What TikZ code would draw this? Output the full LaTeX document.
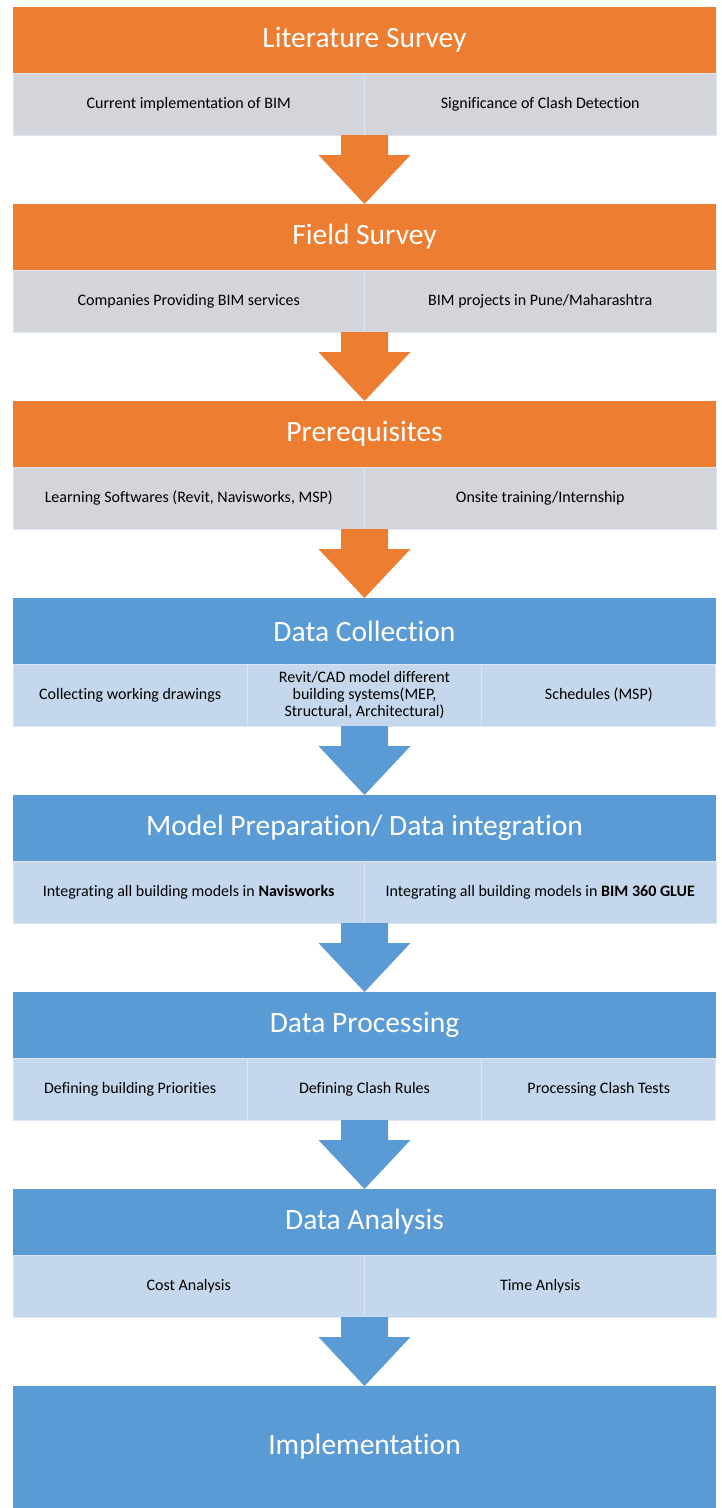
\documentclass[tikz,border=0pt]{standalone}
\usepackage{fontspec}
\setmainfont{Carlito}[Ligatures=NoCommon]
\usetikzlibrary{positioning, calc}
\definecolor{stageorange}{RGB}{237,125,49}
\definecolor{stageblue}{RGB}{91,155,213}
\definecolor{cellgray}{RGB}{211,213,219}
\definecolor{cellblue}{RGB}{197,215,237}
\definecolor{celledge}{RGB}{220,230,243}
\tikzset{
    x=1pt, y=1pt,                               % one unit per pixel of the page
    node distance=0pt,
    outer sep=0pt,
    stage/.style={fill=#1, text=white, minimum width=703pt, minimum height=66pt,
        inner sep=0pt, font=\fontsize{29.5}{31}\selectfont},
    cell/.style={fill=#1, draw=celledge, line width=1pt, minimum height=62pt,
        inner sep=2pt, align=center, font=\fontsize{16}{17}\selectfont},
    half/.style={cell=#1, minimum width=351.5pt},   % two cells under a stage
    third/.style={cell=#1, minimum width=234.33pt}, % three cells under a stage
}
% block arrow from the cell row under stage #1 down to stage #2
\newcommand{\flowarrow}[3]{%
    \fill[#3] ($(#1.south)+(-23.5,-62)$) -- ++(0,-20) -- ++(-22.5,0) -- (#2.north)
        -- ($(#1.south)+(46,-82)$) -- ++(-22.5,0) -- ++(0,20) -- cycle;
}
\begin{document}
\begin{tikzpicture}
\useasboundingbox (0,0) rectangle (721,-1508);

\node[stage=stageorange, anchor=north] (ls) at (364.5,-7) {Literature Survey};
\node[half=cellgray, below right=0pt of ls.south west] (ls1) {Current implementation of BIM};
\node[half=cellgray, right=of ls1] (ls2) {Significance of Clash Detection};

\node[stage=stageorange, below=131pt of ls] (fs) {Field Survey};
\node[half=cellgray, below right=0pt of fs.south west] (fs1) {Companies Providing BIM services};
\node[half=cellgray, right=of fs1] (fs2) {BIM projects in Pune/Maharashtra};

\node[stage=stageorange, below=131pt of fs] (pr) {Prerequisites};
\node[half=cellgray, below right=0pt of pr.south west] (pr1) {Learning Softwares (Revit, Navisworks, MSP)};
\node[half=cellgray, right=of pr1] (pr2) {Onsite training/Internship};

\node[stage=stageblue, below=131pt of pr] (dc) {Data Collection};
\node[third=cellblue, below right=0pt of dc.south west] (dc1) {Collecting working drawings};
\node[third=cellblue, right=of dc1] (dc2) {Revit/CAD model different\\building systems(MEP,\\Structural, Architectural)};
\node[third=cellblue, right=of dc2] (dc3) {Schedules (MSP)};

\node[stage=stageblue, below=131pt of dc] (mp) {Model Preparation/ Data integration};
\node[half=cellblue, below right=0pt of mp.south west] (mp1) {Integrating all building models in \textbf{Navisworks}};
\node[half=cellblue, right=of mp1] (mp2) {Integrating all building models in \textbf{BIM 360 GLUE}};

\node[stage=stageblue, below=131pt of mp] (dp) {Data Processing};
\node[third=cellblue, below right=0pt of dp.south west] (dp1) {Defining building Priorities};
\node[third=cellblue, right=of dp1] (dp2) {Defining Clash Rules};
\node[third=cellblue, right=of dp2] (dp3) {Processing Clash Tests};

\node[stage=stageblue, below=131pt of dp] (da) {Data Analysis};
\node[half=cellblue, below right=0pt of da.south west] (da1) {Cost Analysis};
\node[half=cellblue, right=of da1] (da2) {Time Anlysis};

\node[stage=stageblue, below=131pt of da, minimum height=122pt] (im) {Implementation};

\foreach \a/\b/\c in {ls/fs/stageorange, fs/pr/stageorange, pr/dc/stageorange,
    dc/mp/stageblue, mp/dp/stageblue, dp/da/stageblue, da/im/stageblue}
    \flowarrow{\a}{\b}{\c};

\end{tikzpicture}
\end{document}
